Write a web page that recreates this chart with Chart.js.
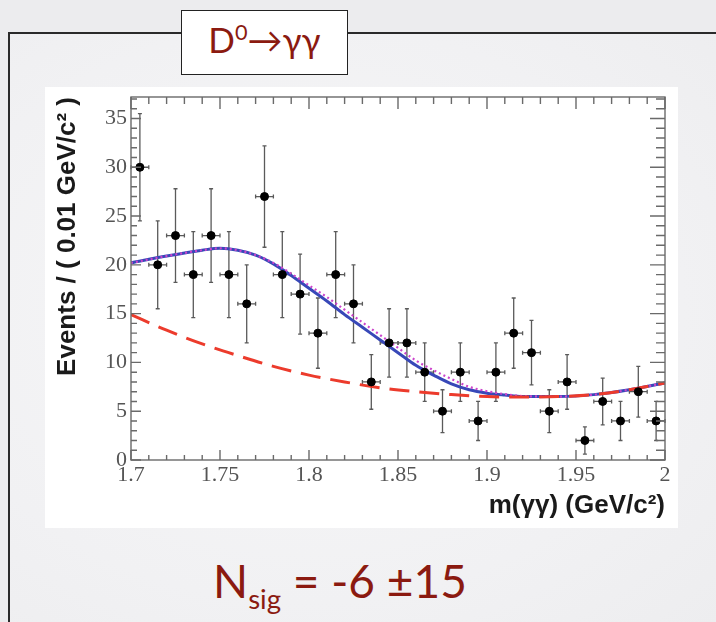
<!DOCTYPE html>
<html>
<head>
<meta charset="utf-8">
<title>D0 to gamma gamma</title>
<script src="https://cdn.jsdelivr.net/npm/chart.js@4.4.0/dist/chart.umd.min.js"></script>
<style>
  html, body { margin: 0; padding: 0; }
  body {
    width: 716px; height: 622px; overflow: hidden; position: relative;
    background: #ececee;
    font-family: Lato, "Open Sans", "DejaVu Sans", sans-serif;
  }
  #frame {
    position: absolute; left: 8px; top: 32px; width: 740px; height: 620px;
    border-left: 2px solid #2a2a2a; border-top: 2px solid #2a2a2a;
    background: radial-gradient(ellipse at 40% 45%, #f7f7f8 0%, #f1f1f3 60%, #ececee 100%);
  }
  #tag {
    position: absolute; left: 181px; top: 10px; width: 165px; height: 63px;
    border: 1.5px solid #222; background: #fff; color: #8b1a10;
    font-size: 35px; line-height: 56px; text-align: center;
  }
  #tag sup { font-size: 0.62em; vertical-align: 0.62em; line-height: 0; }
  #plot {
    position: absolute; left: 45px; top: 87px; width: 633px; height: 441px; background: #fff;
  }
  #nsig {
    position: absolute; left: 213px; top: 558px; color: #8b1a10;
    font-size: 46px; line-height: 46px; white-space: nowrap;
  }
  #nsig sub { font-size: 0.6em; vertical-align: -0.4em; line-height: 0; }
</style>
</head>
<body>
<div id="frame"></div>
<div id="tag">D<sup>0</sup>→γγ</div>
<div id="plot"><canvas id="fitChart" width="633" height="441"></canvas></div>
<div id="nsig">N<sub>sig</sub> = -6 ±15</div>

<script>
// m(γγ) histogram, 0.01 GeV/c² bins
const binCenters = [1.705, 1.715, 1.725, 1.735, 1.745, 1.755, 1.765, 1.775, 1.785, 1.795,
                    1.805, 1.815, 1.825, 1.835, 1.845, 1.855, 1.865, 1.875, 1.885, 1.895,
                    1.905, 1.915, 1.925, 1.935, 1.945, 1.955, 1.965, 1.975, 1.985, 1.995];
const counts = [30, 20, 23, 19, 23, 19, 16, 27, 19, 17,
                13, 19, 16, 8, 12, 12, 9, 5, 9, 4,
                9, 13, 11, 5, 8, 2, 6, 4, 7, 4];
const errors = [5.5, 4.5, 4.8, 4.4, 4.8, 4.4, 4.0, 5.2, 4.4, 4.1,
                3.6, 4.4, 4.0, 2.8, 3.5, 3.5, 3.0, 2.2, 3.0, 2.0,
                3.0, 3.6, 3.3, 2.2, 2.8, 1.4, 2.4, 2.0, 2.6, 2.0];
const binHalf = 0.005;

// fit curves
const totalX = [1.70, 1.72, 1.74, 1.75, 1.76, 1.77, 1.78, 1.79, 1.80, 1.81, 1.82, 1.83,
                1.84, 1.85, 1.86, 1.87, 1.88, 1.89, 1.90, 1.91, 1.92, 1.94, 1.96, 1.98, 2.00];
const totalY = [20.2, 20.9, 21.5, 21.7, 21.5, 21.0, 20.1, 18.9, 17.6, 16.3, 14.9, 13.6,
                12.3, 11.0, 9.7, 8.7, 7.8, 7.2, 6.85, 6.65, 6.5, 6.5, 6.7, 7.2, 7.9];
const altY   = [20.2, 20.9, 21.5, 21.7, 21.5, 21.0, 20.2, 19.1, 17.9, 16.7, 15.4, 14.1,
                12.8, 11.5, 10.2, 9.2, 8.3, 7.5, 7.05, 6.75, 6.55, 6.5, 6.7, 7.2, 7.9];
const bkgX = [1.70, 1.72, 1.74, 1.76, 1.78, 1.80, 1.82, 1.84, 1.86, 1.88, 1.90, 1.92, 1.94, 1.96, 1.98, 2.00];
const bkgY = [14.9, 13.3, 11.9, 10.7, 9.6, 8.7, 8.0, 7.4, 7.0, 6.7, 6.5, 6.45, 6.5, 6.7, 7.2, 7.9];

const xTicks = [1.7, 1.75, 1.8, 1.85, 1.9, 1.95, 2];
const yTicks = [0, 5, 10, 15, 20, 25, 30, 35];

const toPoints = (xs, ys) => xs.map((x, i) => ({ x: x, y: ys[i] }));

// vertical + horizontal error bars under the markers
const errorBars = {
  id: 'errorBars',
  beforeDatasetsDraw(chart) {
    const { ctx, scales: { x, y } } = chart;
    ctx.save();
    ctx.strokeStyle = '#5a5a5a';
    ctx.lineWidth = 1.3;
    binCenters.forEach((c, i) => {
      const px = x.getPixelForValue(c);
      const py = y.getPixelForValue(counts[i]);
      const x0 = x.getPixelForValue(c - binHalf);
      const x1 = x.getPixelForValue(c + binHalf);
      const yt = y.getPixelForValue(counts[i] + errors[i]);
      const yb = y.getPixelForValue(Math.max(0, counts[i] - errors[i]));
      ctx.beginPath();
      ctx.moveTo(px, yt); ctx.lineTo(px, yb);
      ctx.moveTo(px - 2, yt); ctx.lineTo(px + 2, yt);
      ctx.moveTo(px - 2, yb); ctx.lineTo(px + 2, yb);
      ctx.moveTo(x0, py); ctx.lineTo(x1, py);
      ctx.moveTo(x0, py - 2); ctx.lineTo(x0, py + 2);
      ctx.moveTo(x1, py - 2); ctx.lineTo(x1, py + 2);
      ctx.stroke();
    });
    ctx.restore();
  }
};

// ROOT-style frame with ticks pointing inward on all four sides
const rootFrame = {
  id: 'rootFrame',
  afterDraw(chart) {
    const { ctx, chartArea: a, scales: { x, y } } = chart;
    ctx.save();
    ctx.strokeStyle = '#6a6a6a';
    ctx.lineWidth = 1.4;
    ctx.strokeRect(a.left, a.top, a.right - a.left, a.bottom - a.top);
    ctx.beginPath();
    for (let k = 0; k <= 30; k++) {
      const px = x.getPixelForValue(1.7 + k * 0.01);
      const major = k % 5 === 0;
      ctx.moveTo(px, a.bottom); ctx.lineTo(px, a.bottom - (major ? 10 : 5));
      ctx.moveTo(px, a.top); ctx.lineTo(px, a.top + (major ? 12 : 7));
    }
    for (let v = 0; v <= 37; v++) {
      const py = y.getPixelForValue(v);
      const major = v % 5 === 0;
      ctx.moveTo(a.left, py); ctx.lineTo(a.left + (major ? 10 : 6), py);
      ctx.moveTo(a.right, py); ctx.lineTo(a.right - (major ? 15 : 9), py);
    }
    ctx.stroke();
    ctx.restore();
  }
};

new Chart(document.getElementById('fitChart'), {
  type: 'scatter',
  data: {
    datasets: [
      {
        label: 'data',
        data: toPoints(binCenters, counts),
        backgroundColor: '#000',
        borderColor: '#000',
        pointRadius: 4,
        pointHoverRadius: 4
      },
      {
        label: 'background',
        data: toPoints(bkgX, bkgY),
        showLine: true,
        borderColor: '#ec3b2c',
        borderWidth: 3,
        borderDash: [20, 10],
        pointRadius: 0,
        tension: 0.4,
        cubicInterpolationMode: 'monotone'
      },
      {
        label: 'alt',
        data: toPoints(totalX, altY),
        showLine: true,
        borderColor: '#cc44cc',
        borderWidth: 2.2,
        borderDash: [2, 3],
        pointRadius: 0,
        tension: 0.4,
        cubicInterpolationMode: 'monotone'
      },
      {
        label: 'total',
        data: toPoints(totalX, totalY),
        showLine: true,
        borderColor: '#3848b8',
        borderWidth: 3,
        pointRadius: 0,
        tension: 0.4,
        cubicInterpolationMode: 'monotone'
      }
    ]
  },
  options: {
    responsive: false,
    animation: false,
    layout: { padding: { top: 10, right: 13, left: 0, bottom: 0 } },
    plugins: { legend: { display: false }, tooltip: { enabled: false } },
    scales: {
      x: {
        type: 'linear',
        min: 1.7,
        max: 2.0,
        afterFit(scale) {
          scale.height = 68;
          scale.paddingLeft = 0;
          scale.paddingRight = 0;
        },
        afterBuildTicks(scale) { scale.ticks = xTicks.map(v => ({ value: v })); },
        grid: { display: false, drawTicks: false },
        border: { display: false },
        ticks: {
          padding: 2,
          maxRotation: 0,
          autoSkip: false,
          color: '#555',
          font: { family: 'Liberation Serif', size: 22 },
          callback: v => String(Math.round(v * 100) / 100)
        },
        title: {
          display: true,
          text: 'm(γγ) (GeV/c²)',
          align: 'end',
          color: '#1a1a1a',
          font: { family: 'Liberation Sans', weight: 'bold', size: 26 },
          padding: { top: 0, bottom: 7 }
        }
      },
      y: {
        min: 0,
        max: 37.2,
        afterFit(scale) {
          scale.width = 86;
          scale.paddingTop = 0;
          scale.paddingBottom = 0;
        },
        afterBuildTicks(scale) { scale.ticks = yTicks.map(v => ({ value: v })); },
        grid: { display: false, drawTicks: false },
        border: { display: false },
        ticks: {
          padding: 4,
          color: '#555',
          font: { family: 'Liberation Serif', size: 22 }
        },
        title: {
          display: true,
          text: 'Events / ( 0.01 GeV/c² )',
          align: 'end',
          color: '#1a1a1a',
          font: { family: 'Liberation Sans', weight: 'bold', size: 26 },
          padding: { top: 7, bottom: 0 }
        }
      }
    }
  },
  plugins: [errorBars, rootFrame]
});
</script>
</body>
</html>
